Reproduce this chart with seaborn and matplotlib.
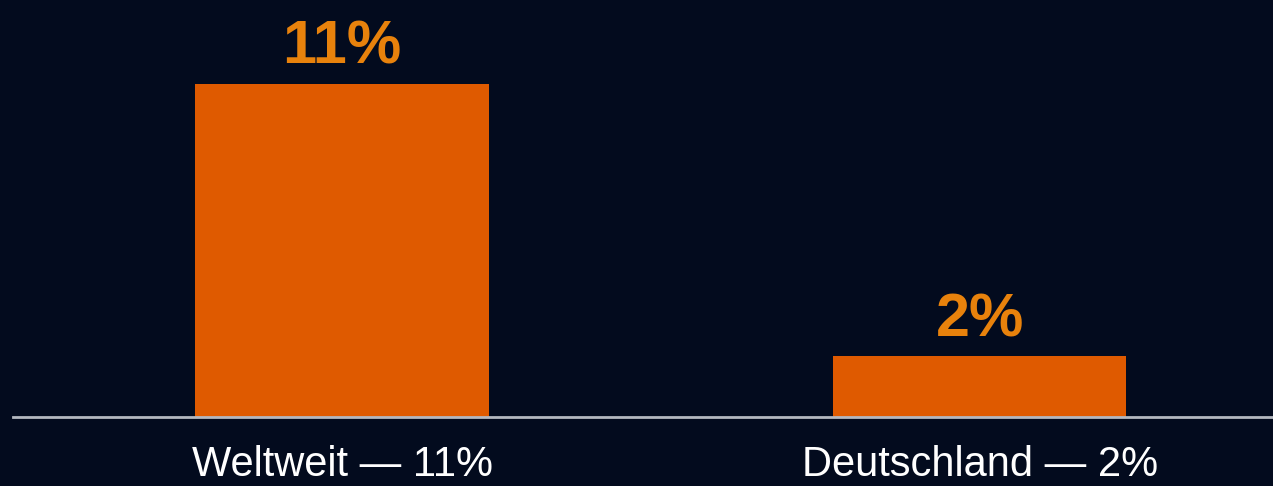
import matplotlib
matplotlib.use("Agg")
import matplotlib.pyplot as plt
import seaborn as sns

categories = ["Weltweit — 11%", "Deutschland — 2%"]
values = [11, 2]
value_labels = ["11%", "2%"]

BG = "#030b1e"
BAR = "#df5a00"
LABEL = "#e8820c"
LINE = "#b4b8c0"

sns.set_theme(style="white")
plt.rcParams["font.family"] = ["Liberation Sans", "DejaVu Sans"]

fig = plt.figure(figsize=(12.73, 4.86), dpi=100, facecolor=BG)
ax = fig.add_axes([13 / 1273, 69 / 486, 1 - 13 / 1273, 417 / 486])
ax.set_facecolor(BG)

sns.barplot(x=categories, y=values, color=BAR, saturation=1, width=0.46,
            linewidth=0, edgecolor="none", ax=ax)

ax.set_xlim(-0.516, 1.46)
ax.set_ylim(0, 13.77)

for c in ax.containers:
    ax.bar_label(c, labels=value_labels, padding=5, color=LABEL,
                 fontsize=44, fontweight="bold")

for s in ["top", "right", "left"]:
    ax.spines[s].set_visible(False)
ax.spines["bottom"].set_color(LINE)
ax.spines["bottom"].set_linewidth(2)
ax.set_yticks([])
ax.set_ylabel("")
ax.set_xlabel("")
ax.tick_params(axis="x", length=0, pad=20, labelsize=30, labelcolor="white")

fig.savefig("out.png", dpi=100, facecolor=BG)
